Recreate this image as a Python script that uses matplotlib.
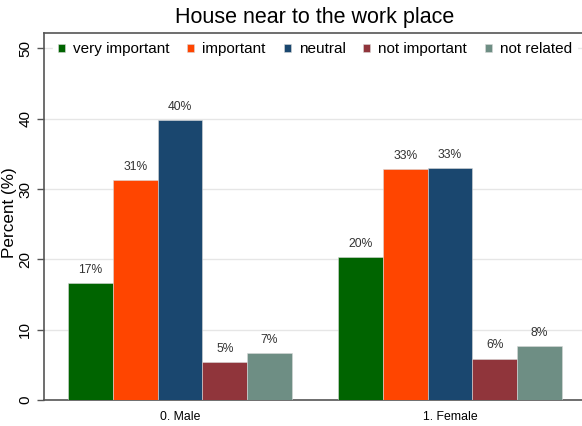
import matplotlib
matplotlib.use("Agg")
import matplotlib.pyplot as plt
import numpy as np

plt.rcParams["font.family"] = ["Liberation Sans", "DejaVu Sans"]

groups = ["0. Male", "1. Female"]
categories = ["very important", "important", "neutral", "not important", "not related"]
values = {
    "very important": [16.6, 20.3],
    "important": [31.3, 32.9],
    "neutral": [39.8, 33.0],
    "not important": [5.4, 5.9],
    "not related": [6.7, 7.7],
}
colors = ["#006400", "#ff4500", "#1a476f", "#90353b", "#6e8e84"]

fig = plt.figure(figsize=(5.82, 4.26), dpi=100)
# plot region runs slightly past the right edge, as in the reference
ax = fig.add_axes([44 / 582, 1 - 400 / 426, 542 / 582, 367 / 426])

x = np.arange(len(groups))
width = 0.1656
for i, cat in enumerate(categories):
    pos = x + (i - 2) * width
    bars = ax.bar(pos, values[cat], width, color=colors[i], label=cat,
                  edgecolor="#d8d8d8", linewidth=0.4, zorder=3)
    for b, v in zip(bars, values[cat]):
        ax.text(b.get_x() + b.get_width() / 2, v + 1.0, "%d%%" % round(v),
                ha="center", va="bottom", fontsize=8.7, color="#333333")

ax.set_xlim(-0.504, 1.504)
ax.set_ylim(0, 52.2)
ax.set_yticks([0, 10, 20, 30, 40, 50])
ax.set_xticks(x)
ax.set_xticklabels(groups, fontsize=8.8)
ax.tick_params(axis="x", length=0, pad=8)
ax.tick_params(axis="y", labelsize=11, rotation=90, length=5, width=1,
               color="#555555", pad=3.5)
for lab in ax.get_yticklabels():
    lab.set_va("center")
ax.grid(axis="y", color="#e6e6e6", linewidth=1, zorder=0)
ax.set_ylabel("Percent (%)", fontsize=12.3)
ax.yaxis.set_label_coords(-0.05, 0.51)
for s in ["left", "bottom", "top"]:
    ax.spines[s].set_color("#555555")
    ax.spines[s].set_linewidth(1.2)
ax.spines["right"].set_visible(False)

leg = ax.legend(loc="upper center", bbox_to_anchor=(0.5, 0.995), ncol=5,
                frameon=True, fontsize=11, handlelength=0.46, handleheight=0.46,
                handletextpad=0.52, columnspacing=1.18, borderaxespad=0.2,
                borderpad=0.3)
leg.get_frame().set_edgecolor("white")
leg.get_frame().set_facecolor("white")
leg.get_frame().set_alpha(1)
leg.set_zorder(5)

fig.text(315 / 582, 1 - 18 / 426, "House near to the work place",
         fontsize=15.5, ha="center", va="center")

fig.savefig("out.png", dpi=100)
